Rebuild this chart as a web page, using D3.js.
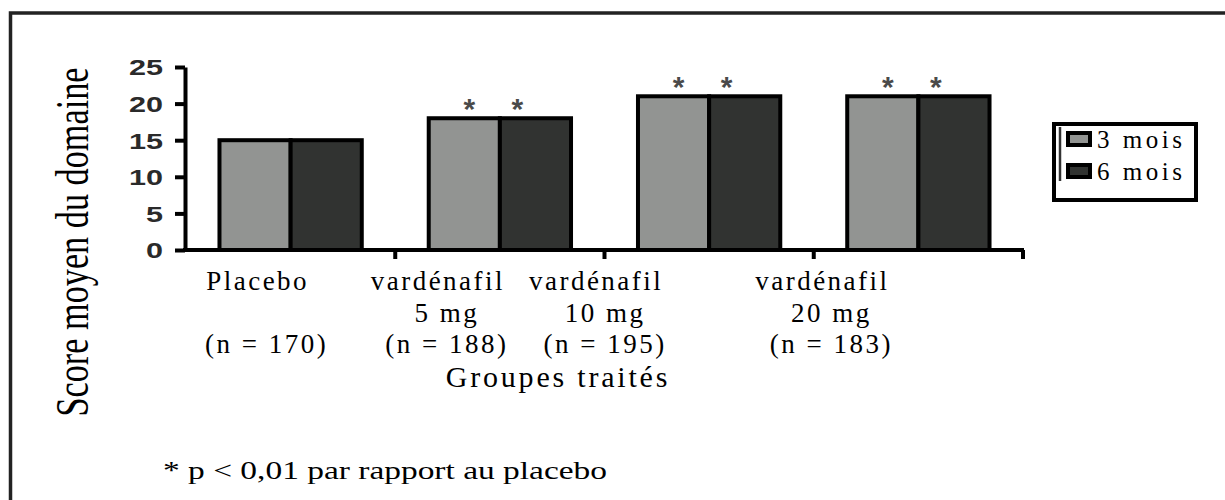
<!DOCTYPE html>
<html>
<head>
<meta charset="utf-8">
<script src="https://cdn.jsdelivr.net/npm/d3@7"></script>
<style>
  body { margin: 0; background: #fff; }
  svg { display: block; }
  .serif { font-family: "Liberation Serif", "Times New Roman", serif; fill: #000; }
</style>
</head>
<body>
<div id="chart"></div>
<script>
const categories = ["Placebo", "vardénafil 5 mg", "vardénafil 10 mg", "vardénafil 20 mg"];
const catLine1 = ["Placebo", "vardénafil", "vardénafil", "vardénafil"];
const catLine2 = ["", "5 mg", "10 mg", "20 mg"];
const catN = [170, 188, 195, 183];
const series = ["3 mois", "6 mois"];
const mois3 = [15, 18, 21, 21];
const mois6 = [15, 18, 21, 21];
const significant = [false, true, true, true];
const yTicks = [0, 5, 10, 15, 20, 25];

const colors = { "3 mois": "#929492", "6 mois": "#313331" };

const W = 1225, H = 500;
const svg = d3.select("#chart").append("svg").attr("width", W).attr("height", H);
svg.append("rect").attr("width", W).attr("height", H).attr("fill", "#fff");

// frame (top + left edges only are visible)
svg.append("path")
  .attr("d", `M10.5,${H} V13 H${W}`)
  .attr("fill", "none").attr("stroke", "#222").attr("stroke-width", 3.5);

const x0 = d3.scaleBand().domain(categories).range([186, 1023]);
const groupW = x0.bandwidth() * 0.68;
const x1 = d3.scaleBand().domain(series).range([-groupW / 2, groupW / 2]);
const y = d3.scaleLinear().domain([0, 25]).range([250, 67]);

const rows = categories.map((c, i) => ({
  cat: c, i,
  vals: [{ s: series[0], v: mois3[i] }, { s: series[1], v: mois6[i] }]
}));

// bars
const groups = svg.append("g").selectAll("g").data(rows).join("g")
  .attr("transform", d => `translate(${x0(d.cat) + x0.bandwidth() / 2},0)`);
groups.selectAll("rect").data(d => d.vals).join("rect")
  .attr("x", d => x1(d.s))
  .attr("y", d => y(d.v))
  .attr("width", x1.bandwidth())
  .attr("height", d => y(0) - y(d.v))
  .attr("fill", d => colors[d.s])
  .attr("stroke", "#000").attr("stroke-width", 4);

// significance stars
const starShift = { "3 mois": 5, "6 mois": -18 };
groups.filter(d => significant[d.i]).selectAll("text.star").data(d => d.vals).join("text")
  .attr("class", "star")
  .attr("x", d => x1(d.s) + x1.bandwidth() / 2 + starShift[d.s])
  .attr("y", d => y(d.v) + 1)
  .attr("text-anchor", "middle")
  .style("font-family", "'Liberation Sans', Arial, sans-serif")
  .style("font-weight", "bold")
  .style("font-size", "30px")
  .attr("fill", "#4a4a4a")
  .text("*");

// y axis
const yAxis = svg.append("g").attr("transform", "translate(185,0)")
  .call(d3.axisLeft(y).tickValues(yTicks).tickSize(10).tickSizeOuter(0).tickPadding(12));
yAxis.select(".domain").attr("stroke", "#000").attr("stroke-width", 4);
yAxis.selectAll(".tick line").attr("stroke", "#000").attr("stroke-width", 4);
yAxis.selectAll(".tick text")
  .attr("fill", "#2a2a2a")
  .attr("dy", "0.36em")
  .style("font-family", "'Liberation Sans', Arial, sans-serif")
  .style("font-weight", "bold")
  .style("font-size", "22px")
  .attr("textLength", d => String(d).length * 17)
  .attr("lengthAdjust", "spacingAndGlyphs");

// x axis
const xg = svg.append("g");
xg.append("line")
  .attr("x1", 183).attr("x2", x0.range()[1] + 1)
  .attr("y1", y(0)).attr("y2", y(0))
  .attr("stroke", "#000").attr("stroke-width", 4);
xg.selectAll("line.tick").data(categories).join("line")
  .attr("class", "tick")
  .attr("x1", d => x0(d) + x0.bandwidth()).attr("x2", d => x0(d) + x0.bandwidth())
  .attr("y1", y(0)).attr("y2", y(0) + 9)
  .attr("stroke", "#000").attr("stroke-width", 4);

// category labels
const labelShift = [-26, -55, -106, -89];
const labels = svg.append("g").selectAll("g").data(rows).join("g")
  .attr("transform", d => `translate(${x0(d.cat) + x0.bandwidth() / 2 + labelShift[d.i]},0)`);
const lab = (sel, txt, yy, dx) => sel.append("text")
  .attr("class", "serif")
  .attr("x", dx).attr("y", yy)
  .attr("text-anchor", "middle")
  .style("font-size", "27px")
  .style("letter-spacing", "2.5px")
  .text(txt);
labels.each(function (d) {
  const g = d3.select(this);
  lab(g, catLine1[d.i], 290, -7);
  lab(g, catLine2[d.i], 322, 2);
  lab(g, `(n = ${catN[d.i]})`, 353, 2);
});

svg.append("text").attr("class", "serif")
  .attr("x", 558).attr("y", 387).attr("text-anchor", "middle")
  .style("font-size", "30px").style("letter-spacing", "2.8px")
  .text("Groupes traités");

// y title
svg.append("text").attr("class", "serif")
  .attr("transform", "translate(88,242) rotate(-90)")
  .attr("text-anchor", "middle")
  .style("font-size", "46px")
  .attr("textLength", 349).attr("lengthAdjust", "spacingAndGlyphs")
  .text("Score moyen du domaine");

// footnote
svg.append("text").attr("class", "serif")
  .attr("x", 163).attr("y", 479)
  .style("font-size", "26px")
  .attr("textLength", 444).attr("lengthAdjust", "spacingAndGlyphs")
  .text("* p < 0,01 par rapport au placebo");

// legend
const lg = svg.append("g");
lg.append("rect").attr("x", 1054).attr("y", 124).attr("width", 142).attr("height", 76)
  .attr("fill", "#fff").attr("stroke", "#000").attr("stroke-width", 4);
lg.append("line").attr("x1", 1060).attr("x2", 1060).attr("y1", 127).attr("y2", 181)
  .attr("stroke", "#333").attr("stroke-width", 2.5);
const li = lg.selectAll("g.item").data(series).join("g").attr("class", "item")
  .attr("transform", (d, i) => `translate(0,${i * 32})`);
li.append("rect").attr("x", 1068).attr("y", 133).attr("width", 22).attr("height", 12)
  .attr("fill", d => colors[d]).attr("stroke", "#000").attr("stroke-width", 4);
li.append("text").attr("class", "serif")
  .attr("x", 1097).attr("y", 148)
  .style("font-size", "25px").style("letter-spacing", "3.5px")
  .text(d => d);
</script>
</body>
</html>
